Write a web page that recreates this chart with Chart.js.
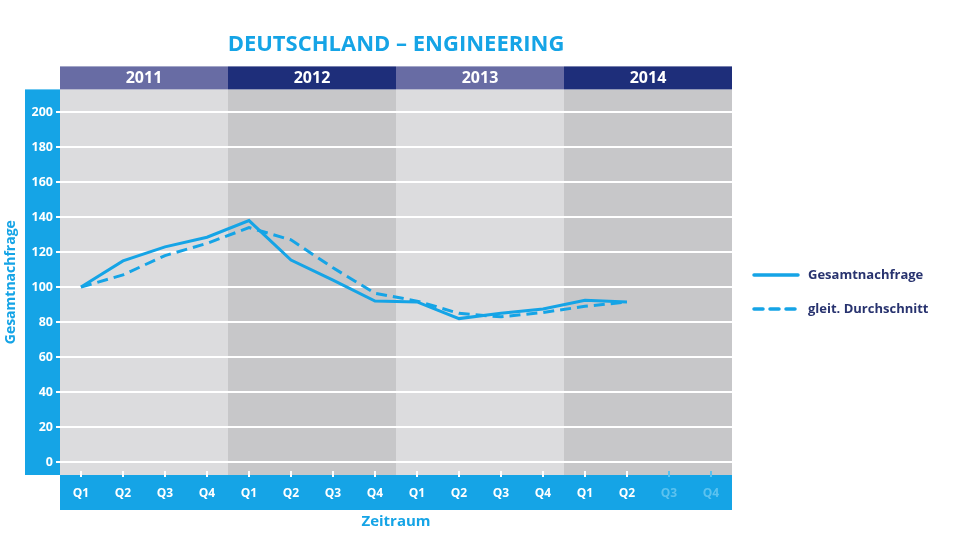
<!DOCTYPE html>
<html>
<head>
<meta charset="utf-8">
<script src="https://cdn.jsdelivr.net/npm/chart.js@4"></script>
<style>
  html, body { margin: 0; padding: 0; background: #fff; }
  #wrap { width: 960px; height: 539px; }
</style>
</head>
<body>
<div id="wrap"><canvas id="myChart"></canvas></div>
<script>
let years = ['2011', '2012', '2013', '2014'];
let quarters = ['Q1', 'Q2', 'Q3', 'Q4'];
let yTicks = [0, 20, 40, 60, 80, 100, 120, 140, 160, 180, 200];
let gesamt = [100, 115, 123, 128.5, 138, 115.5, 104, 92, 91.5, 82, 85, 87.5, 92.5, 91.5, null, null];
let gleit = [100, 107, 118, 125, 134, 127, 111, 96.5, 92, 85, 83, 85.5, 89, 91.5, null, null];
let seriesNames = ['Gesamtnachfrage', 'gleit. Durchschnitt'];

let labels = [];
years.forEach(() => quarters.forEach(q => labels.push(q)));

let blue = '#15a4e6';
let fadedBlue = '#5cc2ef';
let headerColors = ['#686ca4', '#1e2e7a'];
let bandColors = ['#dcdcde', '#c7c7c9'];
let font = "'Open Sans', sans-serif";

// draws the colored bands, year header, tick marks and legend
let decor = {
  id: 'decor',
  beforeDraw(chart) {
    let c = chart.ctx, a = chart.chartArea, x = chart.scales.x;
    let step = x.getPixelForValue(1) - x.getPixelForValue(0);
    c.save();
    years.forEach((yr, i) => {
      let l = x.getPixelForValue(i * 4) - step / 2;
      let r = x.getPixelForValue(i * 4 + 3) + step / 2;
      c.fillStyle = bandColors[i % 2];
      c.fillRect(l, a.top, r - l, a.bottom - a.top);
      c.fillStyle = headerColors[i % 2];
      c.fillRect(l, a.top - 23, r - l, 23);
      c.fillStyle = '#fff';
      c.font = 'bold 16px ' + font;
      c.textAlign = 'center';
      c.textBaseline = 'middle';
      c.fillText(yr, (l + r) / 2, a.top - 11);
    });
    c.fillStyle = blue;
    c.fillRect(25, a.top, a.left - 25, a.bottom - a.top);
    c.fillRect(a.left, a.bottom, a.right - a.left, 35);
    c.restore();
  },
  afterDraw(chart) {
    let c = chart.ctx, a = chart.chartArea, x = chart.scales.x;
    c.save();
    c.lineWidth = 2;
    labels.forEach((lb, i) => {
      let px = Math.round(x.getPixelForValue(i));
      c.strokeStyle = i >= 14 ? fadedBlue : '#fff';
      c.beginPath();
      c.moveTo(px, a.bottom - 4);
      c.lineTo(px, a.bottom + 2);
      c.stroke();
    });
    // legend
    let ly = [275, 309];
    c.lineWidth = 3.5;
    c.lineCap = 'round';
    c.strokeStyle = blue;
    ly.forEach((y, i) => {
      c.setLineDash(i === 1 ? [9, 7] : []);
      c.beginPath();
      c.moveTo(754, y);
      c.lineTo(798, y);
      c.stroke();
      c.setLineDash([]);
      c.fillStyle = '#28336f';
      c.font = 'bold 13px ' + font;
      c.textAlign = 'left';
      c.textBaseline = 'middle';
      c.fillText(seriesNames[i], 808, y);
    });
    c.restore();
  }
};

let ctx = document.getElementById('myChart').getContext('2d');
let myChart = new Chart(ctx, {
  type: 'line',
  data: {
    labels: labels,
    datasets: [{
      label: seriesNames[0],
      data: gesamt,
      borderColor: blue,
      borderWidth: 3,
      pointRadius: 0,
      tension: 0
    }, {
      label: seriesNames[1],
      data: gleit,
      borderColor: blue,
      borderWidth: 3,
      borderDash: [11, 6],
      pointRadius: 0,
      tension: 0
    }]
  },
  options: {
    responsive: true,
    maintainAspectRatio: false,
    animation: false,
    layout: { padding: { left: 0, right: 228, top: 0, bottom: 5 } },
    plugins: {
      legend: { display: false },
      tooltip: { enabled: false },
      title: {
        display: true,
        text: 'DEUTSCHLAND – ENGINEERING',
        color: blue,
        fullSize: false,
        font: { family: font, size: 22, weight: 'bold' },
        padding: { top: 32, bottom: 31 }
      }
    },
    scales: {
      x: {
        offset: true,
        grid: { display: false, drawTicks: false },
        border: { display: false },
        ticks: {
          padding: 11,
          maxRotation: 0,
          autoSkip: false,
          color: (c) => c.index >= 14 ? fadedBlue : '#fff',
          font: { family: font, size: 12, weight: 'bold' }
        },
        title: {
          display: true,
          text: 'Zeitraum',
          color: blue,
          font: { family: font, size: 15, weight: 'bold' },
          padding: { top: 4, bottom: 3 }
        },
        afterFit: (s) => { s.height = 59; }
      },
      y: {
        min: -7.4,
        max: 213,
        grid: { color: '#fff', lineWidth: 2, tickLength: 4 },
        border: { display: false },
        afterBuildTicks: (s) => { s.ticks = yTicks.map(v => ({ value: v })); },
        ticks: {
          padding: 3,
          color: '#fff',
          font: { family: font, size: 12.5, weight: 'bold' }
        },
        title: {
          display: true,
          text: 'Gesamtnachfrage',
          color: blue,
          font: { family: font, size: 14, weight: 'bold' },
          padding: { top: 3, bottom: 4 }
        },
        afterFit: (s) => { s.width = 60; }
      }
    }
  },
  plugins: [decor]
});
</script>
</body>
</html>
